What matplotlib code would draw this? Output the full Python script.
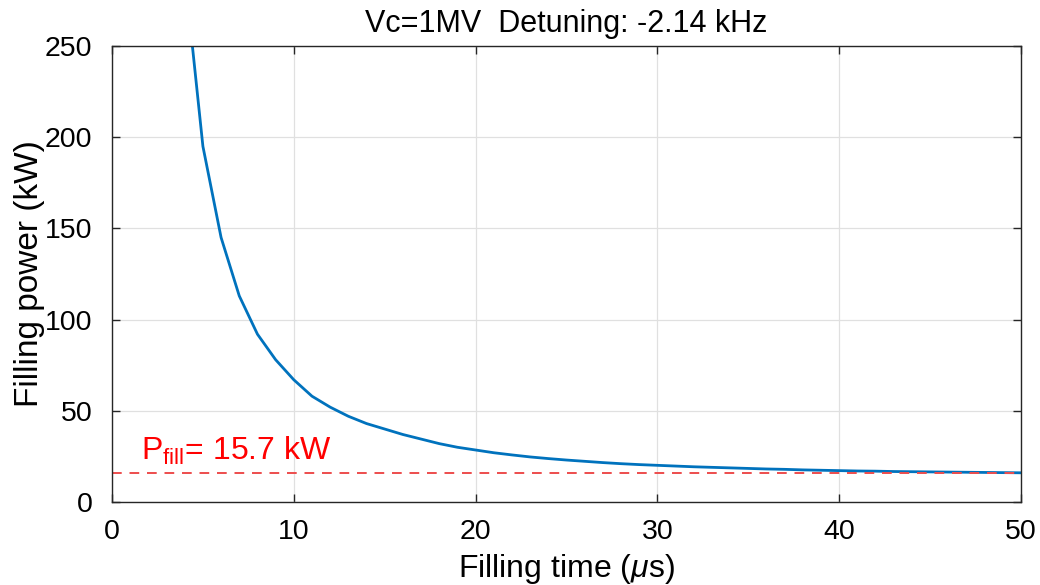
import matplotlib
matplotlib.use('Agg')
import matplotlib.pyplot as plt

plt.rcParams['font.family'] = ['Liberation Sans', 'DejaVu Sans']
plt.rcParams['mathtext.fontset'] = 'custom'
plt.rcParams['mathtext.rm'] = 'Liberation Sans'
plt.rcParams['mathtext.it'] = 'Liberation Sans:italic'

# filling time (us) and power (kW)
fill_time = list(range(4, 51))
fill_power = [290, 195, 145, 113, 92, 78, 67, 58, 52, 47,
              43, 40, 37, 34.5, 32, 30, 28.5, 27, 25.8, 24.7,
              23.8, 23, 22.3, 21.6, 21, 20.5, 20.1, 19.7, 19.3, 19,
              18.7, 18.4, 18.1, 17.9, 17.6, 17.4, 17.2, 17.0, 16.9, 16.7,
              16.6, 16.5, 16.4, 16.3, 16.2, 16.1, 16.0]
p_fill = 15.7

fig = plt.figure(figsize=(10.4, 5.85), dpi=100)
ax = fig.add_axes([0.1077, 0.1419, 0.8740, 0.7795])

ax.plot(fill_time, fill_power, color=(0, 0.447, 0.741), lw=2.0)
ax.axhline(p_fill, color=(0.93, 0.3, 0.3), lw=1.4, ls=(0, (5, 4)))
ax.text(1.6, 23, 'P$_{\\rm fill}$= 15.7 kW', color='red', fontsize=23)

ax.set_xlim(0, 50)
ax.set_ylim(0, 250)
ax.set_xticks([0, 10, 20, 30, 40, 50])
ax.set_yticks([0, 50, 100, 150, 200, 250])
ax.grid(True, color=(0.88, 0.88, 0.88), lw=0.9)
ax.set_axisbelow(True)
ax.tick_params(direction='in', top=True, right=True, length=6, width=1,
               color=(0.15, 0.15, 0.15), labelsize=20.5)
ax.tick_params(axis='x', pad=12)
ax.tick_params(axis='y', pad=14)
for s in ax.spines.values():
    s.set_color((0.15, 0.15, 0.15))
    s.set_linewidth(1)

ax.set_xlabel('Filling time ($\\mu$s)', fontsize=23, labelpad=5)
ax.set_ylabel('Filling power (kW)', fontsize=24, labelpad=0)
ax.set_title('Vc=1MV  Detuning: -2.14 kHz', fontsize=22, pad=10)

fig.savefig('out.png', dpi=100)
